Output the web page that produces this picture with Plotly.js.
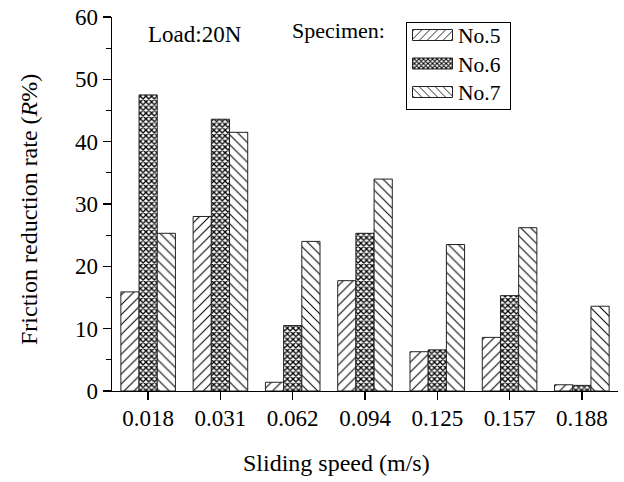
<!DOCTYPE html>
<html>
<head>
<meta charset="utf-8">
<script src="https://cdn.plot.ly/plotly-3.0.1.min.js"></script>
<style>html,body{margin:0;padding:0;background:#fff;}#chart{width:624px;height:482px;}</style>
</head>
<body>
<div id="chart"></div>
<script>
// Data
const speeds = ["0.018", "0.031", "0.062", "0.094", "0.125", "0.157", "0.188"];
const no5 = [15.9, 28.0, 1.4, 17.7, 6.3, 8.6, 1.0];
const no6 = [47.5, 43.6, 10.5, 25.3, 6.6, 15.3, 0.9];
const no7 = [25.3, 41.5, 24.0, 34.0, 23.5, 26.2, 13.6];
const seriesNames = ["No.5", "No.6", "No.7"];

const FONT = "Liberation Serif, Times New Roman, serif";
const W = 624, H = 482;
const L = 112, R = 6, T = 17, B = 91;
const pw = W - L - R, ph = H - T - B;
const px = v => (v - L) / pw;
const py = v => (H - B - v) / ph;

function barTrace(name, vals, shape, size, solidity) {
  return {
    type: 'bar', name: name, x: speeds, y: vals,
    marker: {
      color: 'white',
      line: {color: '#222', width: 1},
      pattern: {shape: shape, fgcolor: 'black', bgcolor: 'white', size: size, solidity: solidity, fillmode: 'replace'}
    }
  };
}

const data = [
  barTrace(seriesNames[0], no5, '/', 7, 0.15),
  barTrace(seriesNames[1], no6, 'x', 4, 0.55),
  barTrace(seriesNames[2], no7, '\\', 7, 0.15)
];

const layout = {
  width: W, height: H,
  margin: {l: L, r: R, t: T, b: B, pad: 0},
  paper_bgcolor: 'white', plot_bgcolor: 'white',
  font: {family: FONT, size: 23, color: 'black'},
  barmode: 'group', bargap: 0.245, bargroupgap: 0,
  showlegend: true,
  legend: {
    x: px(406), y: py(22), xanchor: 'left', yanchor: 'top',
    bordercolor: 'black', borderwidth: 1, bgcolor: 'white',
    font: {family: FONT, size: 21.5, color: 'black'},
    itemwidth: 41,
    tracegroupgap: 0
  },
  xaxis: {
    type: 'category', range: [-0.5, 6.5],
    showline: true, linecolor: 'black', linewidth: 1.3,
    ticks: 'outside', ticklen: 8, tickcolor: 'black', tickwidth: 1.3,
    ticklabelstandoff: -2,
    showgrid: false, zeroline: false,
    tickfont: {family: FONT, size: 23, color: 'black'}
  },
  yaxis: {
    range: [0, 60], dtick: 10, tick0: 0,
    showline: true, linecolor: 'black', linewidth: 1.3,
    ticks: 'outside', ticklen: 8, tickcolor: 'black', tickwidth: 1.3,
    minor: {dtick: 5, ticks: 'outside', ticklen: 5, tickcolor: 'black', tickwidth: 1.3, showgrid: false},
    showgrid: false, zeroline: false,
    tickfont: {family: FONT, size: 23, color: 'black'}
  },
  annotations: [
    {text: 'Load:20N', xref: 'paper', yref: 'paper', x: px(195), y: py(35), xanchor: 'center', yanchor: 'middle', showarrow: false, font: {family: FONT, size: 23, color: 'black'}},
    {text: 'Specimen:', xref: 'paper', yref: 'paper', x: px(338), y: py(30), xanchor: 'center', yanchor: 'middle', showarrow: false, font: {family: FONT, size: 22, color: 'black'}},
    {text: 'Friction reduction rate (<i>R</i>%)', xref: 'paper', yref: 'paper', x: px(29), y: py(210), xanchor: 'center', yanchor: 'middle', textangle: -90, showarrow: false, font: {family: FONT, size: 24, color: 'black'}},
    {text: 'Sliding speed (m/s)', xref: 'paper', yref: 'paper', x: px(336), y: py(463), xanchor: 'center', yanchor: 'middle', showarrow: false, font: {family: FONT, size: 24, color: 'black'}}
  ]
};

Plotly.newPlot('chart', data, layout, {staticPlot: true, displayModeBar: false}).then(function (gd) {
  // widen legend swatches to match the reference's wide hatched boxes
  gd.querySelectorAll('.legend .legendpoints path').forEach(function (p) {
    p.setAttribute('d', 'M-20,5.5H20V-5.5H-20Z');
  });
  // tighten legend row spacing and box size to the reference
  const items = gd.querySelectorAll('.legend .traces');
  items.forEach(function (g, i) {
    const m = /translate\(\s*([-\d.]+)[ ,]+([-\d.]+)\s*\)/.exec(g.getAttribute('transform') || '');
    const x0 = m ? parseFloat(m[1]) : 1;
    g.setAttribute('transform', 'translate(' + x0 + ',' + (13 + i * 28.5) + ')');
  });
  const bg = gd.querySelector('.legend rect.bg');
  if (bg) { bg.setAttribute('height', 87); bg.setAttribute('width', 104); }
});
</script>
</body>
</html>
